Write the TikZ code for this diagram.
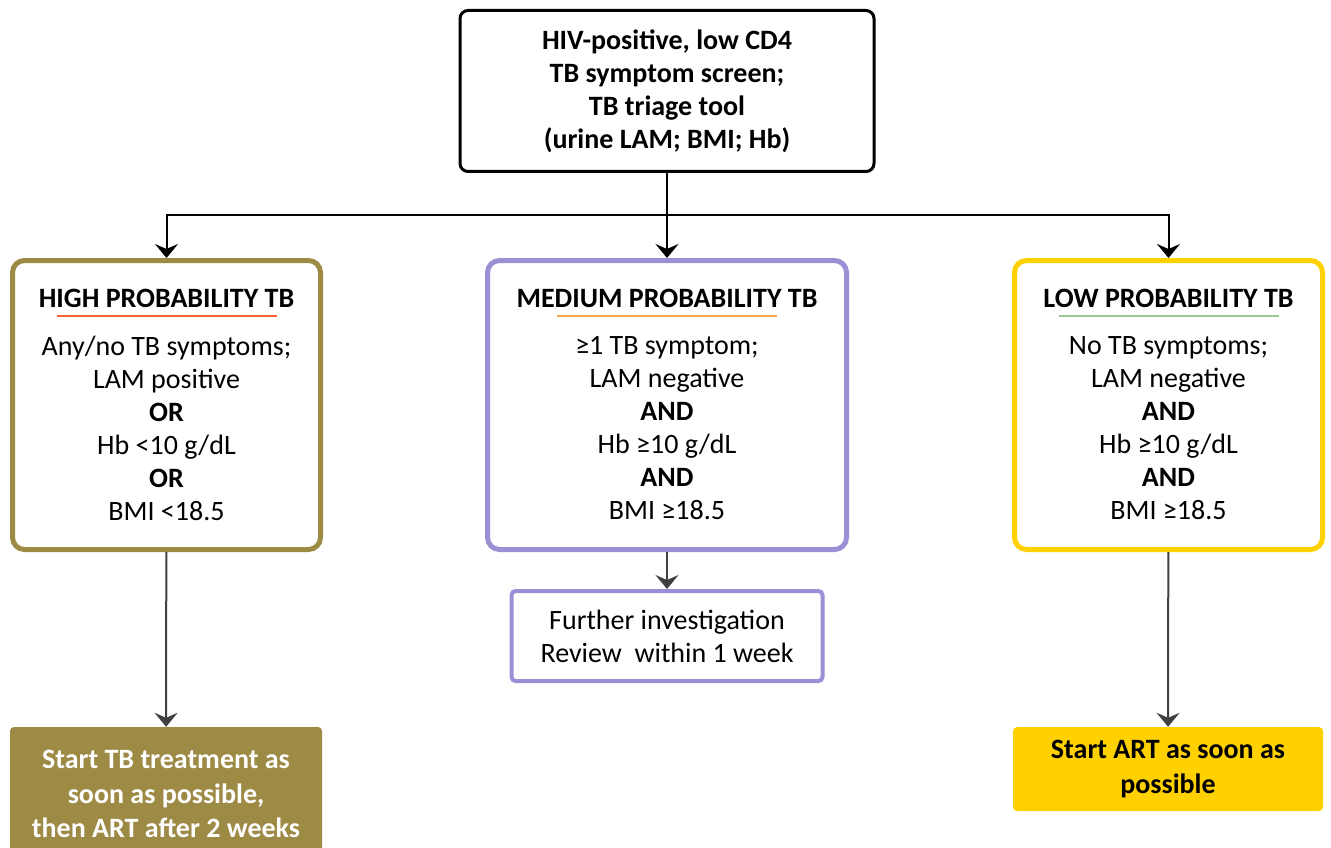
\documentclass[tikz,border=0pt]{standalone}
\usepackage{fontspec}
\setmainfont{Carlito}
\usepackage{tikz}
\usetikzlibrary{arrows.meta, positioning}
\definecolor{highcol}{HTML}{9D8A45}
\definecolor{medcol}{HTML}{9B8FD6}
\definecolor{lowcol}{HTML}{FFD100}
\definecolor{arrowcol}{HTML}{404040}
\tikzstyle{block} = [rectangle, align=center, font=\fontsize{28}{33}\selectfont, inner sep=0pt]
\tikzstyle{start} = [draw, block, line width=3pt, rounded corners=8pt, minimum width=414pt, minimum height=161pt, font=\fontsize{28}{33}\selectfont\bfseries]
\tikzstyle{prob} = [draw, block, line width=5pt, rounded corners=12pt, minimum width=308pt, minimum height=289pt]
\tikzstyle{title} = [block, font=\fontsize{28}{33}\selectfont\bfseries]
\tikzstyle{further} = [draw, block, line width=4pt, rounded corners=4pt, minimum width=311pt, minimum height=90pt]
\tikzstyle{outcome} = [block, rounded corners=4pt, font=\fontsize{28}{34.5}\selectfont\bfseries]
\tikzstyle{topath} = [-{Stealth[length=14pt, width=23pt, inset=5pt]}, line width=2pt, sharp corners]
\tikzstyle{path} = [-{Stealth[length=14pt, width=23pt, inset=5pt]}, line width=2pt, arrowcol]
\tikzstyle{rule} = [line width=1.5pt]

\begin{document}
\begin{tikzpicture}[x=1pt, y=-1pt]
    \useasboundingbox (0,0) rectangle (1331,848);

    % Screening.
    \node (screen) [start] at (667,91) {HIV-positive, low CD4\\TB symptom screen;\\TB triage tool\\(urine LAM; BMI; Hb)};

    % Probability boxes.
    \node (high) [prob, draw=highcol] at (166.5,405) {};
    \node (medium) [prob, draw=medcol, minimum width=359pt] at (667,405) {};
    \node (low) [prob, draw=lowcol] at (1168.5,405) {};

    \node (high title) [title] at ([yshift=-40pt]high.north) {HIGH PROBABILITY TB};
    \node (medium title) [title] at ([yshift=-40pt]medium.north) {MEDIUM PROBABILITY TB};
    \node (low title) [title] at ([yshift=-40pt]low.north) {LOW PROBABILITY TB};

    \draw [rule, red!55!orange!80!white] ([xshift=-110pt, yshift=-58pt]high.north) -- ([xshift=110pt, yshift=-58pt]high.north);
    \draw [rule, orange!70!white] ([xshift=-110pt, yshift=-58pt]medium.north) -- ([xshift=110pt, yshift=-58pt]medium.north);
    \draw [rule, green!50!black!40!white] ([xshift=-110pt, yshift=-58pt]low.north) -- ([xshift=110pt, yshift=-58pt]low.north);

    \node (high body) [block] at ([yshift=-170pt]high.north) {Any/no TB symptoms;\\LAM positive\\\textbf{OR}\\Hb <10 g/dL\\\textbf{OR}\\BMI <18.5};
    \node (medium body) [block] at ([yshift=-170pt]medium.north) {≥1 TB symptom;\\LAM negative\\\textbf{AND}\\Hb ≥10 g/dL\\\textbf{AND}\\BMI ≥18.5};
    \node (low body) [block] at ([yshift=-170pt]low.north) {No TB symptoms;\\LAM negative\\\textbf{AND}\\Hb ≥10 g/dL\\\textbf{AND}\\BMI ≥18.5};

    % Next steps.
    \node (further) [further, draw=medcol, below=37pt of medium] {Further investigation\\Review\ \ within 1 week};
    \node (treat) [outcome, fill=highcol, text=white, minimum width=312pt, minimum height=134pt] at (166,794) {Start TB treatment as\\soon as possible,\\then ART after 2 weeks};
    \node (art) [outcome, fill=lowcol, minimum width=310pt, minimum height=84pt] at (1168,769) {Start ART as soon as\\possible};

    % Arrows.
    \coordinate (fork) at (667,215);
    \draw [topath] (screen) -- (medium);
    \draw [topath] (fork) -| (high);
    \draw [topath] (fork) -| (low);
    \draw [path] (high) -- (treat);
    \draw [path] (medium) -- (further);
    \draw [path] (low) -- (art);
\end{tikzpicture}
\end{document}
